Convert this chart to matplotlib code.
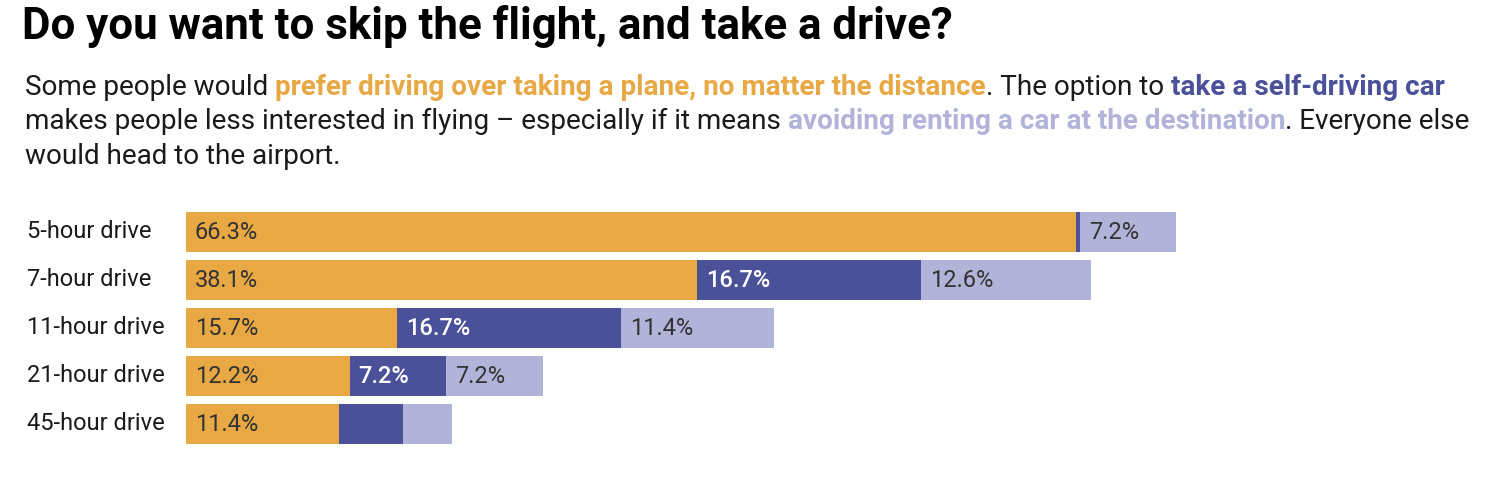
import matplotlib
matplotlib.use("Agg")
import matplotlib.pyplot as plt
from matplotlib.transforms import blended_transform_factory

# data
drives = ["5-hour drive", "7-hour drive", "11-hour drive", "21-hour drive", "45-hour drive"]
prefer_driving = [66.3, 38.1, 15.7, 12.2, 11.4]
self_driving = [0.3, 16.7, 16.7, 7.2, 4.8]
no_rental = [7.2, 12.6, 11.4, 7.2, 3.6]
show_label = [[True, True, True, True, True],
              [False, True, True, True, False],
              [True, True, True, True, False]]

ORANGE = "#E8A844"
DARK = "#4A5199"
LIGHT = "#B1B4D8"
INK = "#1a1a1a"

W, H = 1508, 482
fig = plt.figure(figsize=(W / 100, H / 100), dpi=100)
plt.rcParams["font.family"] = ["Roboto", "DejaVu Sans"]

def px(x, y):
    return x / W, 1 - y / H

# title
fig.text(*px(22, 39), "Do you want to skip the flight, and take a drive?",
         fontsize=31.6, fontweight="bold", color="black", va="baseline")

# subtitle, built piece by piece
lines = [
    [("Some people would", INK, "normal"),
     ("prefer driving over taking a plane, no matter the distance", ORANGE, "bold"),
     (". The option to", INK, "normal", "nospace"),
     ("take a self-driving car", DARK, "bold")],
    [("makes people less interested in flying \u2013 especially if it means", INK, "normal"),
     ("avoiding renting a car at the destination", LIGHT, "bold"),
     (". Everyone else", INK, "normal", "nospace")],
    [("would head to the airport.", INK, "normal")],
]
sub_size = 20.1
renderer = fig.canvas.get_renderer()

def text_w(s, weight):
    t = fig.text(0, 0, s, fontsize=sub_size, fontweight=weight)
    w = t.get_window_extent(renderer).width
    t.remove()
    return w

space_w = text_w("x x", "normal") - text_w("xx", "normal")
baselines = [95, 129, 164]
for line, yb in zip(lines, baselines):
    x = 25
    for i, piece in enumerate(line):
        s, c, wgt = piece[:3]
        if i > 0 and len(piece) < 4:
            x += space_w
        t = fig.text(*px(x, yb), s, fontsize=sub_size, fontweight=wgt, color=c, va="baseline")
        x += t.get_window_extent(renderer).width

# bars: axes placed in pixels
ppp = 13.42  # pixels per percent
left, top, bottom = 186, 208, 448
ax = fig.add_axes([left / W, 1 - bottom / H, (W - left) / W, (bottom - top) / H])
ax.set_xlim(0, (W - left) / ppp)
ax.set_ylim(len(drives) - 0.5, -0.5)
ax.axis("off")

ys = list(range(len(drives)))
series = [(prefer_driving, ORANGE, "#333333"),
          (self_driving, DARK, "white"),
          (no_rental, LIGHT, "#333333")]
starts = [0.0] * len(drives)
for k, (vals, col, tcol) in enumerate(series):
    ax.barh(ys, vals, left=starts, height=40 / 48, color=col, linewidth=0)
    for i, v in enumerate(vals):
        if show_label[k][i]:
            ax.annotate(f"{v:.1f}%", (starts[i], ys[i] + 0.14), xytext=(9, 0),
                        textcoords="offset pixels", va="baseline", ha="left",
                        fontsize=17, color=tcol,
                        fontweight="medium" if tcol == "white" else "normal")
    starts = [s + v for s, v in zip(starts, vals)]

tr = blended_transform_factory(fig.transFigure, ax.transData)
for i, name in enumerate(drives):
    ax.text(27 / W, i + 0.125, name, transform=tr, va="baseline", ha="left",
            fontsize=17, color=INK)

fig.savefig("out.png", dpi=100)
